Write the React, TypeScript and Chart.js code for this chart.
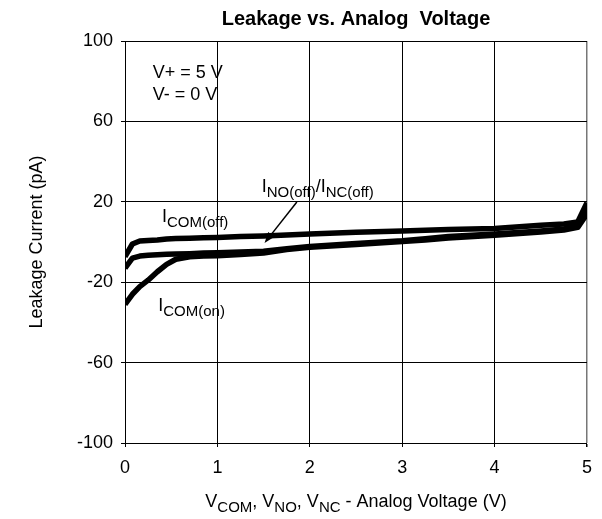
import React, { useEffect, useRef } from "react";
import { Chart, registerables } from "chart.js";

Chart.register(...registerables);

// ---- data ----
const voltage = [0, 0.08, 0.16, 0.25, 0.35, 0.45, 0.55, 0.7, 0.85, 1.0, 1.25, 1.5, 1.75, 2.0, 2.5, 3.0, 3.25, 3.5, 4.0, 4.5, 4.75, 4.9, 5.0];
const iComOff = [-7.3, -1, 0.5, 0.8, 1.0, 1.5, 1.7, 1.9, 2.1, 2.3, 2.7, 3.0, 3.5, 4.0, 4.8, 5.5, 5.9, 6.2, 6.7, 8.3, 9.0, 10, 19.5];
const iNoNcOff = [-13, -8, -7, -6.6, -6.3, -6.1, -6, -5.8, -5.5, -5.3, -5, -4.6, -3.4, -2.2, -0.8, 0.6, 1.6, 2.8, 4, 5.5, 6.5, 7.8, 17];
const iComOn = [-31, -26, -22.2, -19, -14.8, -11.1, -8.6, -7.3, -7, -6.8, -6.2, -5.5, -3.8, -2.6, -1.2, 0.2, 1, 2, 3.4, 5, 6, 7.3, 14];
const xTicks = [0, 1, 2, 3, 4, 5];
const yTicks = [-100, -60, -20, 20, 60, 100];

const FONT = "'Liberation Sans', Arial, Helvetica, sans-serif";

type Seg = { t: string; sub?: boolean };

function drawRich(
  ctx: CanvasRenderingContext2D,
  segs: Seg[],
  x: number,
  y: number,
  align: "left" | "center",
  main = 18,
  sub = 15,
  drop = 5
) {
  const widths = segs.map((s) => {
    ctx.font = `${s.sub ? sub : main}px ${FONT}`;
    return ctx.measureText(s.t).width;
  });
  const total = widths.reduce((a, b) => a + b, 0);
  let cx = align === "center" ? x - total / 2 : x;
  ctx.textAlign = "left";
  ctx.textBaseline = "alphabetic";
  segs.forEach((s, i) => {
    ctx.font = `${s.sub ? sub : main}px ${FONT}`;
    ctx.fillText(s.t, cx, s.sub ? y + drop : y);
    cx += widths[i];
  });
}

const annotationPlugin = {
  id: "annotations",
  afterDraw(chart: any) {
    const ctx: CanvasRenderingContext2D = chart.ctx;
    const xs = chart.scales.x;
    const ys = chart.scales.y;
    const ca = chart.chartArea;
    const px = (v: number) => xs.getPixelForValue(v);
    const py = (v: number) => ys.getPixelForValue(v);
    ctx.save();
    ctx.fillStyle = "#000";

    // title
    ctx.font = `bold 20px ${FONT}`;
    ctx.textAlign = "center";
    ctx.textBaseline = "alphabetic";
    ctx.fillText("Leakage vs. Analog  Voltage", (ca.left + ca.right) / 2, 25);

    // x-axis title
    drawRich(
      ctx,
      [
        { t: "V" },
        { t: "COM", sub: true },
        { t: ", V" },
        { t: "NO", sub: true },
        { t: ", V" },
        { t: "NC", sub: true },
        { t: " - Analog Voltage (V)" },
      ],
      (ca.left + ca.right) / 2,
      507,
      "center"
    );

    // y-axis title
    ctx.save();
    ctx.translate(37, (ca.top + ca.bottom) / 2);
    ctx.rotate(-Math.PI / 2);
    ctx.font = `18px ${FONT}`;
    ctx.textAlign = "center";
    ctx.textBaseline = "middle";
    ctx.fillText("Leakage Current (pA)", 0, 0);
    ctx.restore();

    // conditions
    ctx.font = `18px ${FONT}`;
    ctx.textAlign = "left";
    ctx.textBaseline = "alphabetic";
    ctx.fillText("V+ = 5 V", px(0.3), py(81.6));
    ctx.fillText("V- = 0 V", px(0.3), py(70.6));

    // curve labels
    drawRich(ctx, [{ t: "I" }, { t: "COM(off)", sub: true }], px(0.4), py(10), "left");
    drawRich(
      ctx,
      [{ t: "I" }, { t: "NO(off)", sub: true }, { t: "/I" }, { t: "NC(off)", sub: true }],
      px(1.48),
      py(24.9),
      "left"
    );
    drawRich(ctx, [{ t: "I" }, { t: "COM(on)", sub: true }], px(0.36), py(-34.3), "left");

    // arrow
    const x1 = px(1.86), y1 = py(19.9);
    const x2 = px(1.51), y2 = py(-0.5);
    const ang = Math.atan2(y2 - y1, x2 - x1);
    const hl = 11, hw = 4;
    const bx = x2 - hl * Math.cos(ang), by = y2 - hl * Math.sin(ang);
    ctx.strokeStyle = "#000";
    ctx.lineWidth = 1.5;
    ctx.beginPath();
    ctx.moveTo(x1, y1);
    ctx.lineTo(bx, by);
    ctx.stroke();
    ctx.beginPath();
    ctx.moveTo(x2, y2);
    ctx.lineTo(bx + hw * Math.sin(ang), by - hw * Math.cos(ang));
    ctx.lineTo(bx - hw * Math.sin(ang), by + hw * Math.cos(ang));
    ctx.closePath();
    ctx.fill();

    ctx.restore();
  },
};

export default function App() {
  const ref = useRef<HTMLCanvasElement | null>(null);
  useEffect(() => {
    if (!ref.current) return;
    const mk = (d: number[]) => voltage.map((v, i) => ({ x: v, y: d[i] }));
    const ds = (label: string, d: number[]) => ({
      label,
      data: mk(d),
      borderColor: "#000",
      backgroundColor: "#000",
      borderWidth: 5.5,
      pointRadius: 0,
      tension: 0,
      borderJoinStyle: "round" as const,
      borderCapStyle: "butt" as const,
    });
    const chart = new Chart(ref.current, {
      type: "line",
      data: {
        datasets: [ds("ICOM(off)", iComOff), ds("INO(off)/INC(off)", iNoNcOff), ds("ICOM(on)", iComOn)],
      },
      plugins: [annotationPlugin],
      options: {
        animation: false,
        responsive: false,
        devicePixelRatio: 1,
        layout: { padding: { top: 41, right: 13, left: 0, bottom: 0 } },
        plugins: { legend: { display: false }, title: { display: false }, tooltip: { enabled: false } },
        scales: {
          x: {
            type: "linear",
            min: 0,
            max: 5,
            afterBuildTicks: (s: any) => {
              s.ticks = xTicks.map((v) => ({ value: v }));
            },
            afterFit: (s: any) => {
              s.height = 76;
            },
            grid: {
              color: (c: any) => (c.tick && c.tick.value === 5 ? "#777" : "#000"),
              lineWidth: (c: any) => (c.tick && c.tick.value === 5 ? 1.5 : 1),
              drawTicks: true,
              tickLength: 4,
              tickColor: "#000",
            },
            border: { color: "#000", width: 1 },
            ticks: { color: "#000", font: { family: FONT, size: 18 }, padding: 10, maxRotation: 0 },
          },
          y: {
            type: "linear",
            min: -100,
            max: 100,
            afterBuildTicks: (s: any) => {
              s.ticks = yTicks.map((v) => ({ value: v }));
            },
            afterFit: (s: any) => {
              s.width = 125;
            },
            grid: { color: "#000", lineWidth: 1, drawTicks: true, tickLength: 4, tickColor: "#000" },
            border: { color: "#000", width: 1 },
            ticks: { color: "#000", font: { family: FONT, size: 18 }, padding: 8 },
          },
        },
      },
    });
    return () => chart.destroy();
  }, []);
  return (
    <div style={{ position: "fixed", left: 0, top: 0, width: 602, height: 519, background: "#fff" }}>
      <canvas ref={ref} width={602} height={519} style={{ display: "block", width: 602, height: 519 }} />
    </div>
  );
}
